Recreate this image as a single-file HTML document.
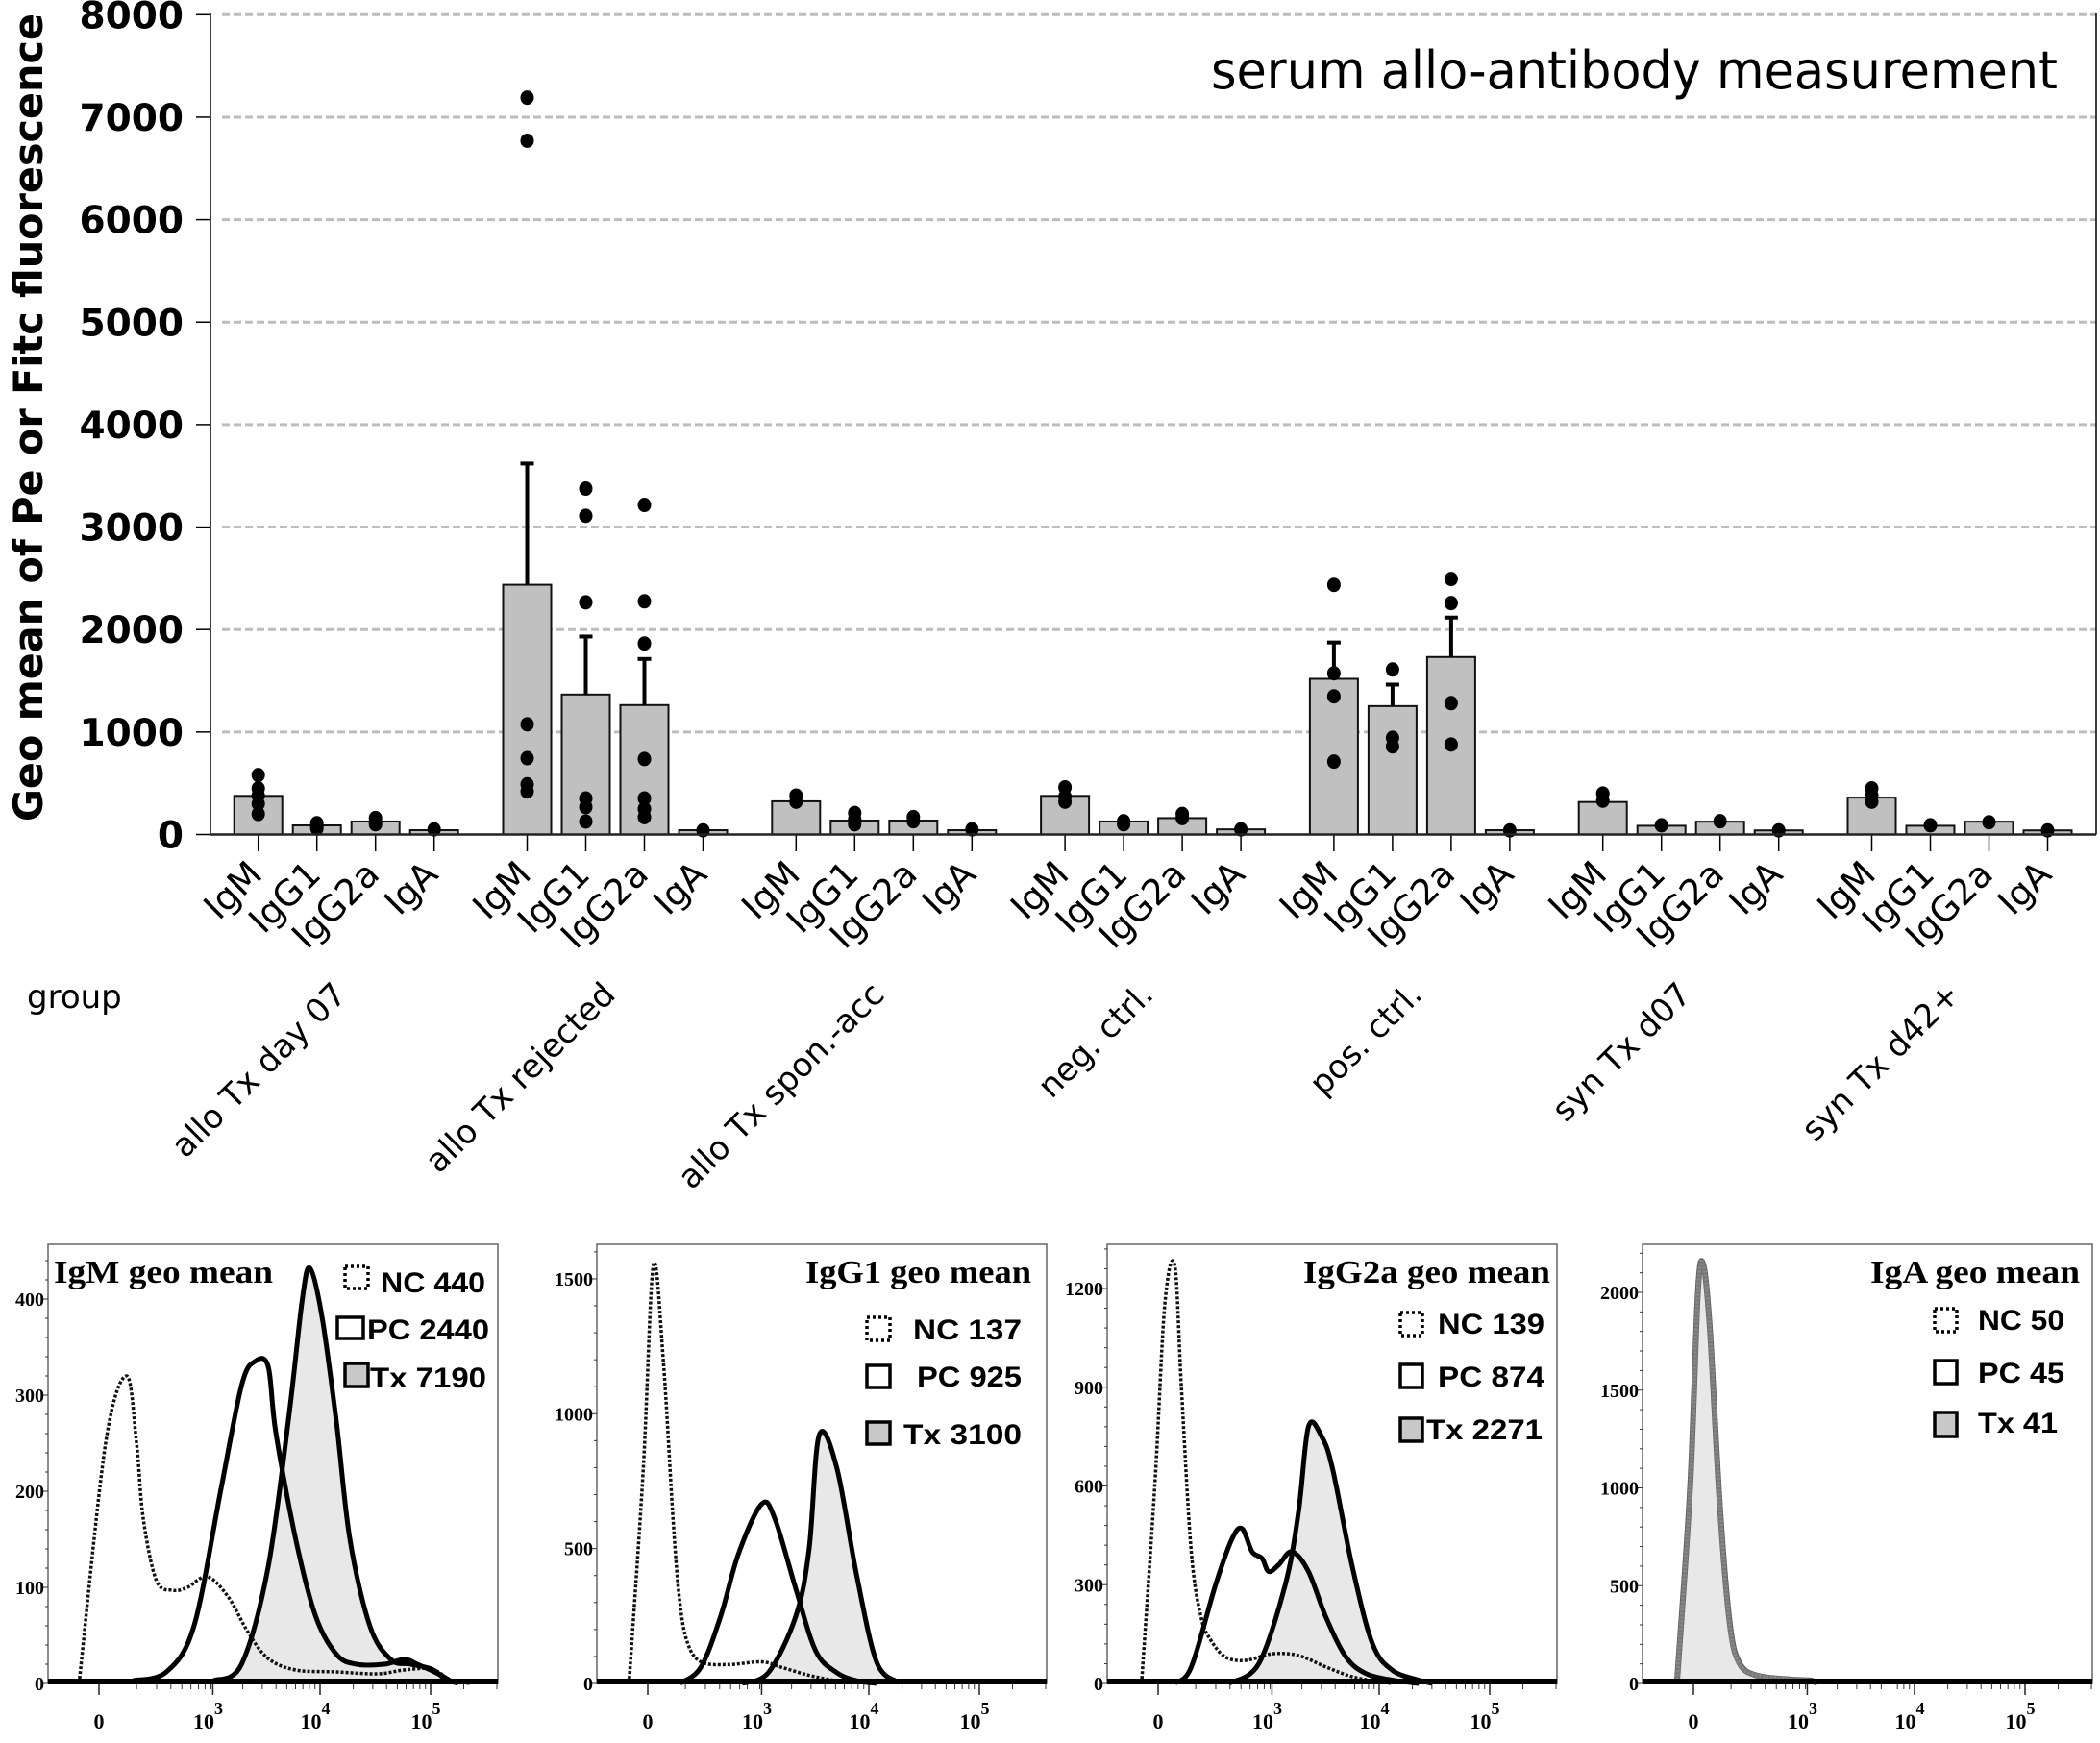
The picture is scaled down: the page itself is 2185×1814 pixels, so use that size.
<!DOCTYPE html>
<html><head><meta charset="utf-8"><style>
html,body{margin:0;padding:0;background:#fff;}
svg{display:block;}
</style></head><body>
<svg id="fig" xmlns="http://www.w3.org/2000/svg" width="2185" height="1814" viewBox="0 0 2185 1814">
<rect x="0" y="0" width="2185" height="1814" fill="#fff"/>
<g id="main"></g>
<g id="hists"></g>
</svg>
<script>
// ---------- main bar chart data ----------
const groups = ["allo Tx day 07","allo Tx rejected","allo Tx spon.-acc","neg. ctrl.","pos. ctrl.","syn Tx d07","syn Tx d42+"];
const isotypes = ["IgM","IgG1","IgG2a","IgA"];
const meanIgM  = [377, 2437, 324, 377, 1519, 317, 360];
const meanIgG1 = [89, 1366, 136, 127, 1253, 85, 85];
const meanIgG2a= [127, 1263, 136, 160, 1732, 125, 125];
const meanIgA  = [42, 42, 42, 50, 42, 40, 40];
const errIgM   = [0, 3620, 0, 0, 1874, 0, 0];
const errIgG1  = [0, 1932, 0, 0, 1463, 0, 0];
const errIgG2a = [0, 1713, 0, 0, 2117, 0, 0];
const errIgA   = [0, 0, 0, 0, 0, 0, 0];
const ptsIgM  = [[580,450,380,300,200],[7190,6770,1075,745,490,420],[380,320],[460,370,320],[2436,1573,1348,711],[400,330],[450,380,320]];
const ptsIgG1 = [[110,80,60],[3375,3110,2266,352,268,127],[210,150,100],[130,100],[1610,943,860],[90],[90]];
const ptsIgG2a= [[160,120,100],[3216,2276,1864,737,352,250,169],[170,130],[200,160],[2493,2258,1282,878],[130],[120]];
const ptsIgA  = [[50],[40],[50],[50],[40],[40],[40]];
const yTicks = [0,1000,2000,3000,4000,5000,6000,7000,8000];

const NS = "http://www.w3.org/2000/svg";
function mk(tag, attrs, parent){ const e=document.createElementNS(NS,tag); for(const k in attrs) e.setAttribute(k,attrs[k]); parent.appendChild(e); return e; }

const means=[meanIgM,meanIgG1,meanIgG2a,meanIgA];
const errs=[errIgM,errIgG1,errIgG2a,errIgA];
const pts=[ptsIgM,ptsIgG1,ptsIgG2a,ptsIgA];

const X0=268.7, GSTEP=279.8, BSTEP=61, BW=50;
const Y0=868.5, YK=0.10665;
function yv(v){ return Y0 - v*YK; }
function xb(g,i){ return X0 + g*GSTEP + i*BSTEP; }

const main=document.getElementById('main');
yTicks.forEach(t=>{
  if(t>0){
    const gl=mk('line',{x1:231,x2:2181,y1:yv(t),y2:yv(t),stroke:'#bdbdbd','stroke-width':3,'stroke-dasharray':'8 4'},main);
    
    
  }
  const tk=mk('line',{x1:204,x2:219,y1:yv(t),y2:yv(t),stroke:'#000','stroke-width':1.5},main);
  
  
  const tl=mk('text',{x:191,y:yv(t)+14,'text-anchor':'end','font-family':'"DejaVu Sans","Liberation Sans",sans-serif','font-weight':'bold','font-size':39},main);
  tl.textContent=String(t);
  
  
});
const ya=mk('line',{x1:219,x2:219,y1:14,y2:Y0,stroke:'#000','stroke-width':1.5},main);


const rb=mk('line',{x1:2181,x2:2181,y1:14,y2:Y0,stroke:'#000','stroke-width':1.5},main);



groups.forEach((gname,g)=>{
  isotypes.forEach((iso,i)=>{
    const cx=xb(g,i), m=means[i][g];
    const b=mk('rect',{x:cx-BW/2,y:yv(m),width:BW,height:Y0-yv(m),fill:'#c0c0c0',stroke:'#111','stroke-width':2},main);
    
    
    const e=errs[i][g];
    if(e>m){
      const el=mk('line',{x1:cx,x2:cx,y1:yv(m),y2:yv(e),stroke:'#000','stroke-width':4},main);
      
      
      const ec=mk('line',{x1:cx-7,x2:cx+7,y1:yv(e),y2:yv(e),stroke:'#000','stroke-width':4},main);
      
      
    }
    pts[i][g].forEach(v=>{
      const d=mk('ellipse',{cx:cx,cy:yv(v),rx:7,ry:7.5,fill:'#000'},main);
      
      
    });
    const tk=mk('line',{x1:cx,x2:cx,y1:Y0,y2:886,stroke:'#000','stroke-width':1.5},main);
    
    
    const lx=cx+6, ly=912;
    const lb=mk('text',{x:lx,y:ly,'text-anchor':'end',transform:'rotate(-45 '+lx+' '+ly+')','font-family':'"DejaVu Sans","Liberation Sans",sans-serif','font-size':37},main);
    lb.textContent=iso;
    
    
  });
  const gx=xb(g,0)+1.5*BSTEP+2, gy=1037;
  const gl=mk('text',{x:gx,y:gy,'text-anchor':'end',transform:'rotate(-45 '+gx+' '+gy+')','font-family':'"DejaVu Sans","Liberation Sans",sans-serif','font-size':34},main);
  gl.textContent=gname;
  
  
});
const xa=mk('line',{x1:219,x2:2181,y1:Y0,y2:Y0,stroke:'#222','stroke-width':2.5},main);



const ytitle=mk('text',{x:0,y:0,transform:'translate(44 855) rotate(-90)','font-family':'"DejaVu Sans","Liberation Sans",sans-serif','font-weight':'bold','font-size':42,textLength:841,lengthAdjust:'spacingAndGlyphs'},main);
ytitle.textContent='Geo mean of Pe or Fitc fluorescence';


const title=mk('text',{x:1260,y:92,'font-family':'"DejaVu Sans","Liberation Sans",sans-serif','font-size':54,textLength:881,lengthAdjust:'spacingAndGlyphs'},main);
title.textContent='serum allo-antibody measurement';


const grp=mk('text',{x:28,y:1049,'font-family':'"DejaVu Sans","Liberation Sans",sans-serif','font-size':34},main);
grp.textContent='group';



// ---------- histogram data ([channel, count]) ----------
const igmNC  = [[-0.18,0],[0.06,250],[0.25,320],[0.34,250],[0.40,172],[0.52,107],[0.67,97],[0.80,100],[0.98,111],[1.17,90],[1.35,53],[1.53,26],[1.78,14],[2.15,12],[2.52,10],[2.76,14],[3.01,15],[3.19,3],[3.37,0]];
const igmPC  = [[0.31,3],[0.61,12],[0.86,60],[1.10,200],[1.29,310],[1.41,335],[1.53,330],[1.60,261],[1.78,150],[1.96,70],[2.15,30],[2.33,20],[2.58,20],[2.76,25],[2.88,20],[3.07,10],[3.19,2]];
const igmTx  = [[1.04,3],[1.29,20],[1.53,121],[1.72,280],[1.84,400],[1.91,432],[2.02,380],[2.15,270],[2.27,150],[2.45,60],[2.64,25],[2.82,20],[3.01,15],[3.13,5],[3.25,0]];
const igg1NC = [[-0.17,0],[-0.04,800],[0.05,1550],[0.14,1200],[0.23,600],[0.29,300],[0.36,150],[0.48,80],[0.72,70],[1.03,80],[1.21,60],[1.46,30],[1.71,10],[1.95,3]];
const igg1PC = [[0.29,0],[0.48,60],[0.66,250],[0.82,480],[1.03,665],[1.15,610],[1.34,350],[1.52,120],[1.71,40],[1.89,10],[2.07,0]];
const igg1Tx = [[0.85,0],[1.09,40],[1.34,250],[1.46,500],[1.55,920],[1.71,800],[1.89,400],[2.07,80],[2.26,5]];
const igg2NC = [[-0.15,0],[-0.03,600],[0.06,1150],[0.15,1270],[0.21,900],[0.30,400],[0.39,200],[0.48,130],[0.61,80],[0.79,70],[1.03,90],[1.27,85],[1.52,50],[1.76,20],[2.0,5],[2.12,0]];
const igg2PC = [[0.15,0],[0.30,50],[0.52,300],[0.67,440],[0.76,470],[0.85,400],[0.94,380],[1.0,340],[1.09,360],[1.21,400],[1.36,340],[1.52,200],[1.70,80],[1.88,30],[2.12,10],[2.36,0]];
const igg2Tx = [[0.64,0],[0.91,60],[1.15,300],[1.27,520],[1.36,780],[1.48,750],[1.58,650],[1.76,350],[1.94,120],[2.12,40],[2.36,10],[2.48,0]];
const igaNC  = [[-0.15,0],[-0.03,1000],[0.04,2000],[0.09,2140],[0.15,1800],[0.24,900],[0.33,300],[0.42,100],[0.58,40],[0.88,20],[1.06,15],[1.12,0]];
const igaPC  = [[-0.15,0],[-0.03,990],[0.04,1990],[0.09,2130],[0.15,1790],[0.24,890],[0.33,290],[0.42,95],[0.58,40],[0.88,20],[1.06,14],[1.12,0]];
const igaTx  = [[-0.15,0],[-0.03,1000],[0.04,2010],[0.09,2150],[0.15,1810],[0.24,910],[0.33,300],[0.42,100],[0.58,42],[0.88,22],[1.06,15],[1.12,0]];
const yTicksP1=[0,100,200,300,400];
const yTicksP2=[0,500,1000,1500];
const yTicksP3=[0,300,600,900,1200];
const yTicksP4=[0,500,1000,1500,2000];
const xTickChan=[0,1.03,2,3];
const xTickExp=["","3","4","5"];

const panels=[
 {left:50, k:1.0, ticks:yTicksP1, curves:[igmNC,igmPC,igmTx], title:'IgM geo mean', tx:56, tl:228,
  leg:[{bx:359,by:1318,bw:24,bh:23,t:'NC 440',tx:396,ty:1345,tw:109},{bx:351,by:1371,bw:27,bh:22,t:'PC 2440',tx:382,ty:1394,tw:127},{bx:359,by:1419,bw:24,bh:24,t:'Tx 7190',tx:385,ty:1444,tw:121}]},
 {left:621, k:0.2807, ticks:yTicksP2, curves:[igg1NC,igg1PC,igg1Tx], title:'IgG1 geo mean', tx:838, tl:235,
  leg:[{bx:902,by:1371,bw:24,bh:24,t:'NC 137',tx:950,ty:1394,tw:113},{bx:902,by:1421,bw:24,bh:23,t:'PC 925',tx:954,ty:1443,tw:109},{bx:902,by:1480,bw:24,bh:23,t:'Tx 3100',tx:940,ty:1503,tw:123}]},
 {left:1152, k:0.3425, ticks:yTicksP3, curves:[igg2NC,igg2PC,igg2Tx], title:'IgG2a geo mean', tx:1356, tl:257,
  leg:[{bx:1457,by:1366,bw:23,bh:24,t:'NC 139',tx:1496,ty:1388,tw:111},{bx:1457,by:1420,bw:23,bh:24,t:'PC 874',tx:1496,ty:1443,tw:111},{bx:1457,by:1476,bw:23,bh:24,t:'Tx 2271',tx:1484,ty:1498,tw:121}]},
 {left:1709, k:0.2035, ticks:yTicksP4, curves:[igaNC,igaPC,igaTx], title:'IgA geo mean', tx:1946, tl:218,
  leg:[{bx:2013,by:1362,bw:23,bh:24,t:'NC 50',tx:2058,ty:1384,tw:90},{bx:2013,by:1416,bw:23,bh:24,t:'PC 45',tx:2058,ty:1439,tw:90},{bx:2013,by:1470,bw:23,bh:25,t:'Tx 41',tx:2058,ty:1491,tw:83}]}
];
const PW=468, PTOP=1295, PBASE=1752;
const hists=document.getElementById('hists');
const serif='"Liberation Serif","DejaVu Serif",serif';
const sans='"Liberation Sans",sans-serif';

function smoothPath(P){
  let d='M'+P[0][0].toFixed(1)+' '+P[0][1].toFixed(1);
  for(let i=0;i<P.length-1;i++){
    const p0=P[Math.max(0,i-1)], p1=P[i], p2=P[i+1], p3=P[Math.min(P.length-1,i+2)];
    const c1x=p1[0]+(p2[0]-p0[0])/6, c1y=p1[1]+(p2[1]-p0[1])/6;
    const c2x=p2[0]-(p3[0]-p1[0])/6, c2y=p2[1]-(p3[1]-p1[1])/6;
    d+=' C'+c1x.toFixed(1)+' '+Math.min(PBASE,c1y).toFixed(1)+' '+c2x.toFixed(1)+' '+Math.min(PBASE,c2y).toFixed(1)+' '+p2[0].toFixed(1)+' '+p2[1].toFixed(1);
  }
  return d;
}

panels.forEach((p,pi)=>{
  const g=mk('g',{},hists);
  
  
  const hx=c=>p.left+53+c*115;
  const hy=n=>PBASE-n*p.k;
  const box=mk('rect',{x:p.left,y:PTOP,width:PW,height:PBASE-PTOP,fill:'none',stroke:'#666','stroke-width':1.5},g);
  
  
  const step=p.ticks[1];
  for(let v=0; hy(v)>=PTOP; v+=step/5){
    const mt=mk('line',{x1:p.left-(v%step===0?6:3),x2:p.left,y1:hy(v),y2:hy(v),stroke:'#333','stroke-width':1},g);
    
    
  }
  p.ticks.forEach(t=>{
    const tl=mk('text',{x:p.left-4,y:hy(t)+7,'text-anchor':'end','font-family':serif,'font-weight':'bold','font-size':20},g);
    tl.textContent=String(t);
    
    
  });
  xTickChan.forEach((c,j)=>{
    const t=mk('line',{x1:hx(c),x2:hx(c),y1:PBASE,y2:PBASE+12,stroke:'#222','stroke-width':1.5},g);
    
    
    const lab=mk('text',{x:hx(c)-(j?5:0),y:1799,'text-anchor':'middle','font-family':serif,'font-weight':'bold','font-size':22},g);
    if(j===0){ lab.textContent='0'; }
    else{ lab.textContent='10'; const s=mk('tspan',{dy:-15,'font-size':18},lab); s.textContent=xTickExp[j]; }
    
    
    if(j>0){
      for(let m=2;m<10;m++){
        const mc=c-1+Math.log10(m)*(j===1?1.03:1);
        const mt=mk('line',{x1:hx(mc),x2:hx(mc),y1:PBASE,y2:PBASE+6,stroke:'#333','stroke-width':1},g);
        
        
      }
    }
  });
  [3.3,3.6,3.9].forEach(mc=>{ if(hx(mc)<p.left+PW){ const mt=mk('line',{x1:hx(mc),x2:hx(mc),y1:PBASE,y2:PBASE+6,stroke:'#333','stroke-width':1},g);
    
     }});
  const [nc,pc,tx]=p.curves;
  const path=arr=>smoothPath(arr.map(q=>[hx(q[0]),hy(q[1])]));
  const isIgA = pi===3;
  const txFill=mk('path',{d:path(tx)+' L'+hx(tx[tx.length-1][0])+' '+PBASE+' L'+hx(tx[0][0])+' '+PBASE+' Z',fill:'#e8e8e8',stroke:'none'},g);
  
  
  const ncP=mk('path',{d:path(nc),fill:'none',stroke:isIgA?'#555':'#111','stroke-width':isIgA?6:3.5,'stroke-dasharray':isIgA?'none':'3 2'},g);
  
  
  const pcP=mk('path',{d:path(pc),fill:'none',stroke:isIgA?'#777':'#000','stroke-width':5,'stroke-linejoin':'round'},g);
  
  
  const txP=mk('path',{d:path(tx),fill:'none',stroke:isIgA?'#888':'#000','stroke-width':isIgA?4:5,'stroke-linejoin':'round','stroke-dasharray':isIgA?'2 2':'none'},g);
  
  
  const base=mk('line',{x1:p.left,x2:p.left+PW,y1:PBASE-2,y2:PBASE-2,stroke:'#000','stroke-width':6},g);
  
  
  const ttl=mk('text',{x:p.tx,y:1335,'font-family':serif,'font-weight':'bold','font-size':34,textLength:p.tl,lengthAdjust:'spacingAndGlyphs'},g);
  ttl.textContent=p.title;
  
  
  p.leg.forEach((L,li)=>{
    const attrs={x:L.bx,y:L.by,width:L.bw,height:L.bh,fill:li===2?'#c8c8c8':'#fff',stroke:'#000','stroke-width':3.5};
    if(li===0) attrs['stroke-dasharray']='3 3';
    const sw=mk('rect',attrs,g);
    
    
    const lt=mk('text',{x:L.tx,y:L.ty,'font-family':sans,'font-weight':'bold','font-size':30,textLength:L.tw,lengthAdjust:'spacingAndGlyphs'},g);
    lt.textContent=L.t;
    
    
  });
});
</script>
</body></html>
